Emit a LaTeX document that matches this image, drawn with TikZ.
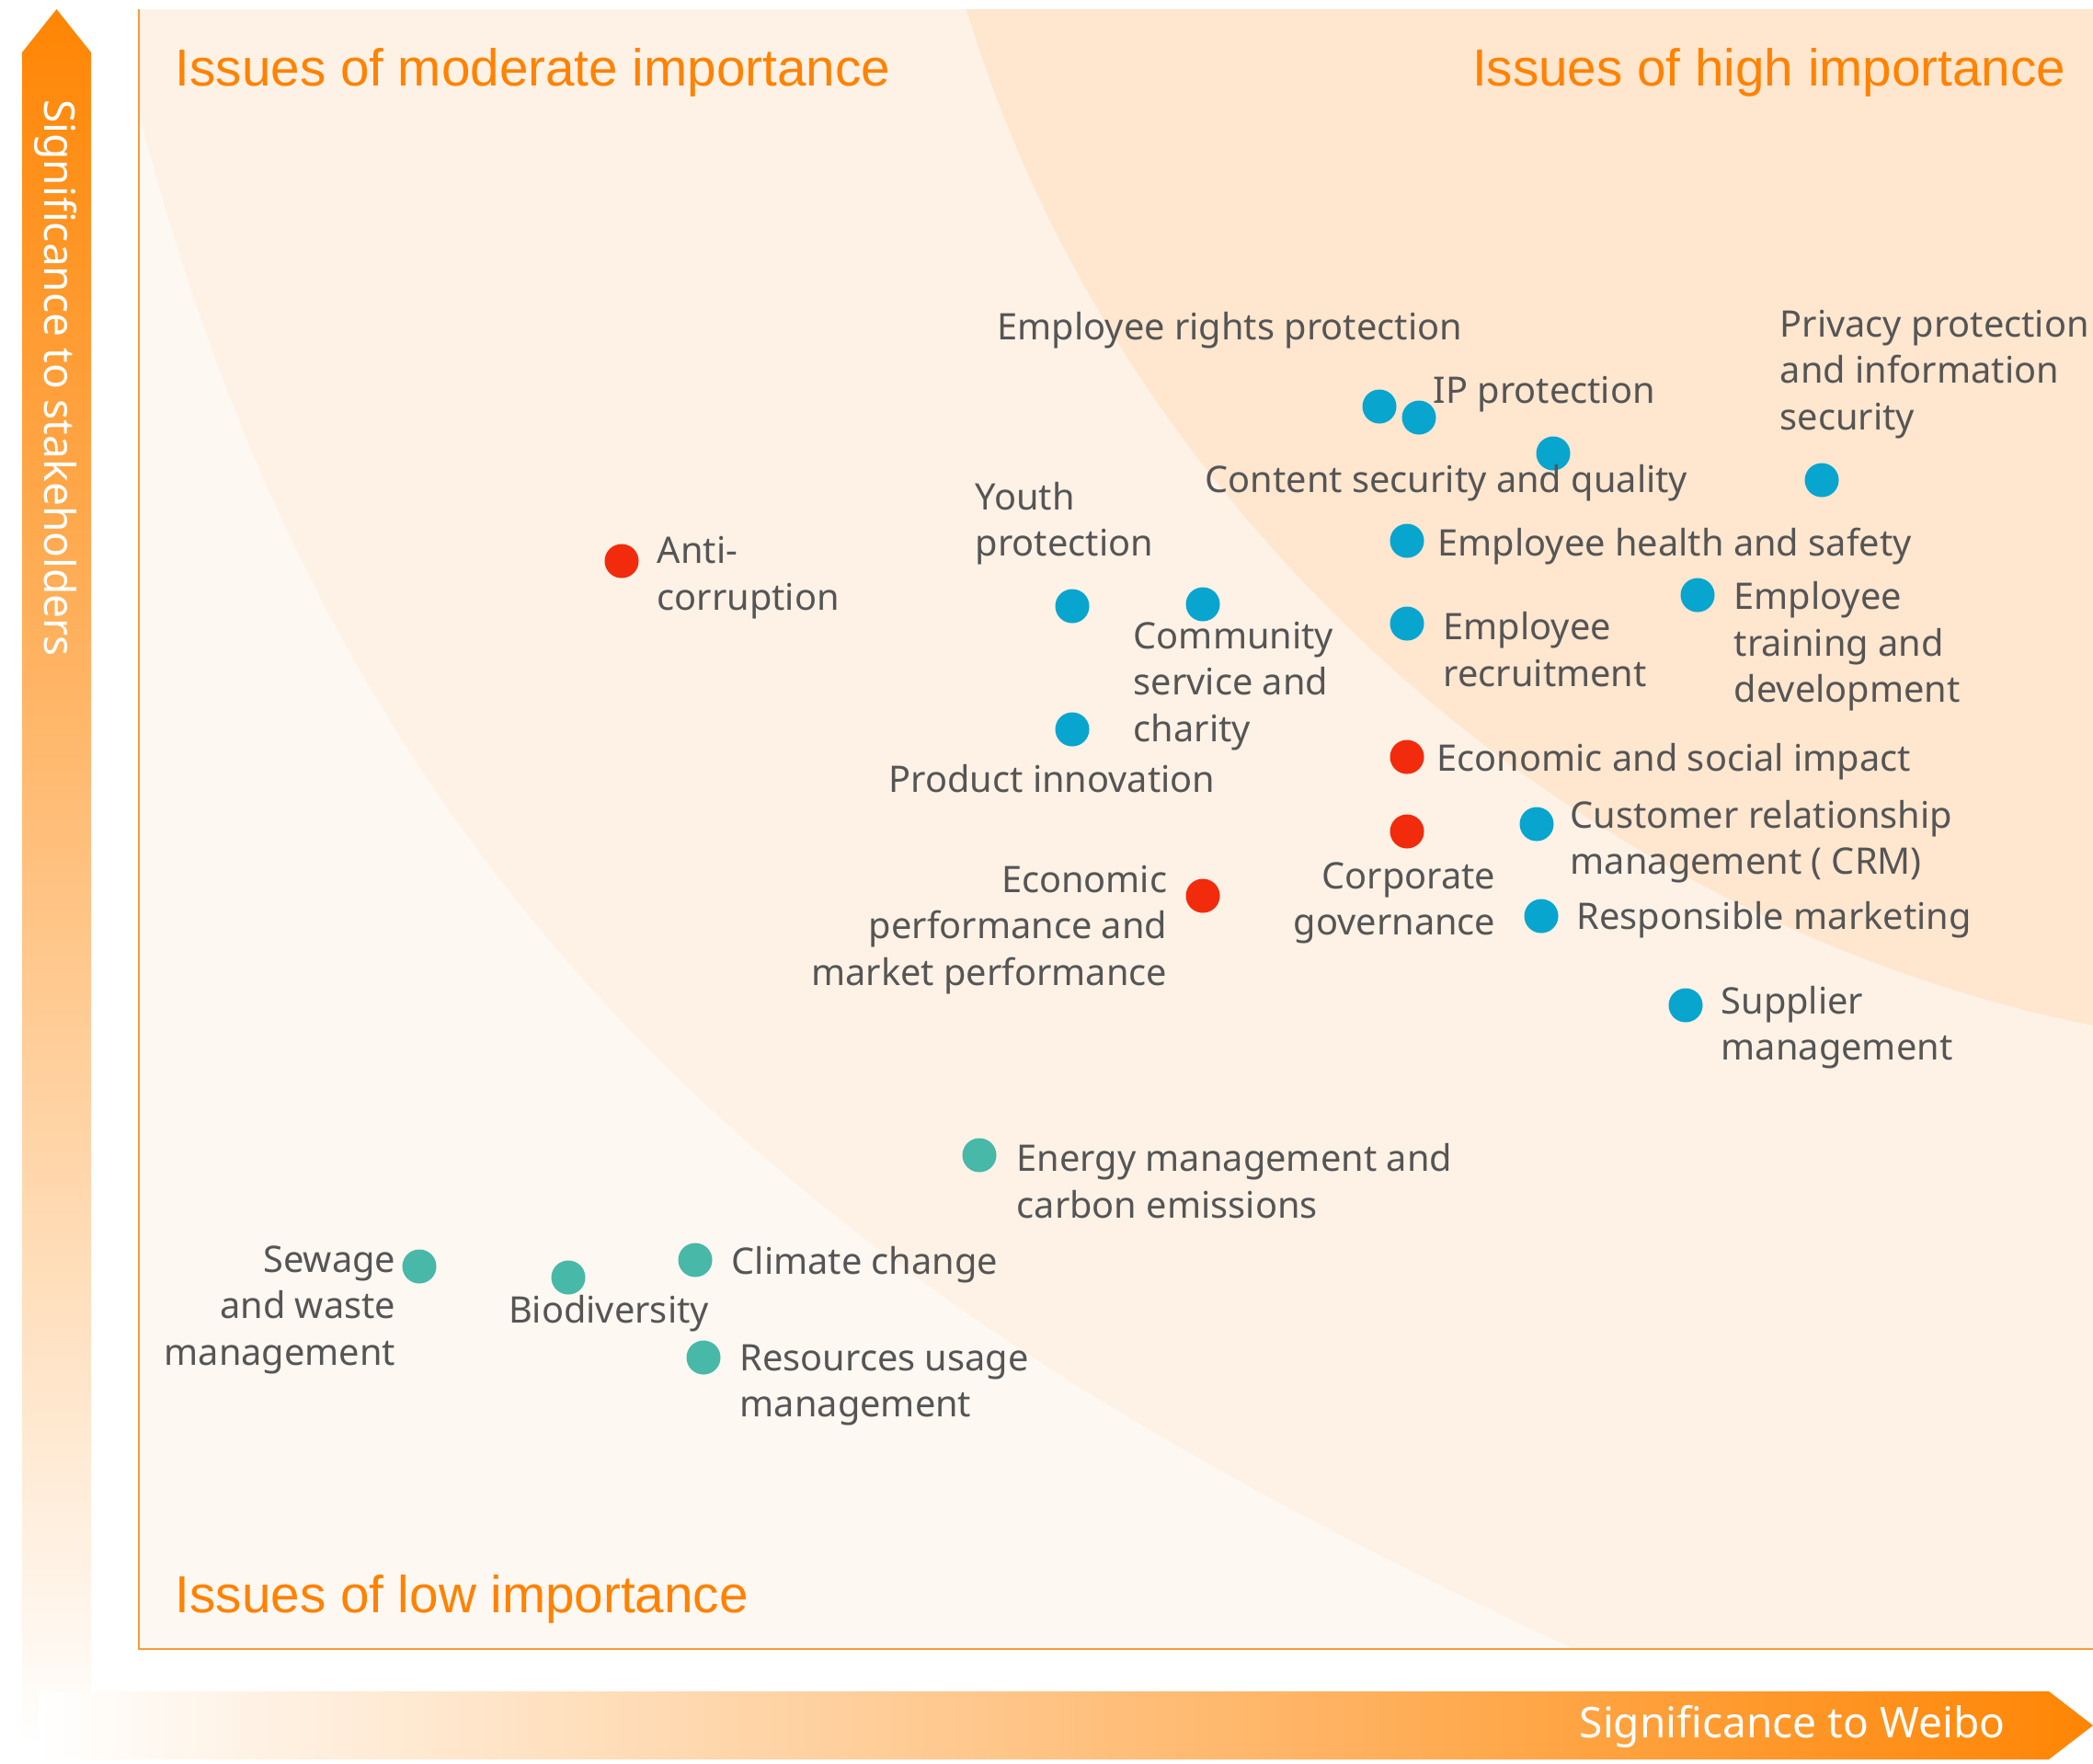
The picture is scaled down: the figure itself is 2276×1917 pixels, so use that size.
\documentclass[tikz,border=0pt]{standalone}
\usepackage{fontspec}
\setmainfont{Noto Sans}
\newfontfamily\titlefont{Liberation Sans}
\definecolor{orgA}{HTML}{FF8503}
\definecolor{ttlc}{HTML}{FF8200}
\definecolor{lowc}{HTML}{FEF8F2}
\definecolor{midc}{HTML}{FEF2E6}
\definecolor{highc}{HTML}{FEE6CF}
\definecolor{bordc}{HTML}{F99A3A}
\definecolor{txtc}{HTML}{555555}
\definecolor{dblue}{HTML}{08A5CF}
\definecolor{dred}{HTML}{F22B0C}
\definecolor{dgreen}{HTML}{48B8A8}
\begin{document}
\begin{tikzpicture}[x=0.01cm,y=-0.01cm,
  dot/.style={circle,inner sep=0pt,minimum size=0.37cm,fill=#1},
  lbl/.style={inner sep=0pt,text=txtc,font=\fontsize{11.3}{14.4}\selectfont},
  ttl/.style={inner sep=0pt,text=ttlc,font=\titlefont\fontsize{16.1}{19}\selectfont},
  axl/.style={inner sep=0pt,text=white,font=\fontsize{13.1}{16}\selectfont},
  bord/.style={draw=bordc,line width=0.6pt}]
\useasboundingbox (0,0) rectangle (2276,1917);
% axis arrows
\shade[top color=orgA,bottom color=white] (24,1900) -- (24,57) -- (61.5,10) -- (99,57) -- (99,1900) -- cycle;
\shade[left color=white,right color=orgA] (42,1839) -- (2228,1839) -- (2276,1876) -- (2228,1913) -- (42,1913) -- cycle;
\node[axl,rotate=-90] (ylab) at (61,411) {Significance to stakeholders};
\node[axl,anchor=east] (xlab) at (2181,1877) {Significance to Weibo};
% chart regions
\fill[midc] (151,10) rectangle (2276,1793);
\fill[lowc] (151,123) .. controls (376,994) and (890,1415) .. (1712,1793) -- (151,1793) -- cycle;
\fill[highc] (1051,10) .. controls (1216,561) and (1712,1002) .. (2276,1115) -- (2276,10) -- cycle;
\draw[bord] (151,10) -- (151,1793) -- (2276,1793);
% titles
\node[ttl,anchor=base west] (tmod) at (190,93) {Issues of moderate importance};
\node[ttl,anchor=base east] (thigh) at (2247,93) {Issues of high importance};
\node[ttl,anchor=base west] (tlow) at (190,1753) {Issues of low importance};
% dots
\node[dot=dblue] (d1) at (1500,442) {};
\node[dot=dblue] (d2) at (1543,454) {};
\node[dot=dblue] (d3) at (1689,493) {};
\node[dot=dblue] (d4) at (1981,522) {};
\node[dot=dblue] (d5) at (1530,588) {};
\node[dot=dblue] (d6) at (1166,659) {};
\node[dot=dblue] (d7) at (1308,657) {};
\node[dot=dblue] (d8) at (1530,678) {};
\node[dot=dblue] (d9) at (1846,647) {};
\node[dot=dred] (d10) at (676,610) {};
\node[dot=dblue] (d11) at (1166,793) {};
\node[dot=dred] (d12) at (1530,823) {};
\node[dot=dblue] (d13) at (1671,896) {};
\node[dot=dred] (d14) at (1530,904) {};
\node[dot=dblue] (d15) at (1676,996) {};
\node[dot=dred] (d16) at (1308,974) {};
\node[dot=dblue] (d17) at (1833,1093) {};
\node[dot=dgreen] (d18) at (1065,1256) {};
\node[dot=dgreen] (d19) at (756,1370) {};
\node[dot=dgreen] (d20) at (456,1377) {};
\node[dot=dgreen] (d21) at (618,1389) {};
\node[dot=dgreen] (d22) at (765,1476) {};
% labels
\node[lbl,anchor=west] (l1) at (1084,359) {Employee rights protection};
\node[lbl,anchor=west] (l2) at (1558,429) {IP protection};
\node[lbl,anchor=west] (l3) at (1310,525) {Content security and quality};
\node[lbl,anchor=west,align=left] (l4) at (1935,407) {Privacy protection\\and information\\security};
\node[lbl,anchor=west] (l5) at (1563,594) {Employee health and safety};
\node[lbl,anchor=west,align=left] (l6) at (1060,569) {Youth\\protection};
\node[lbl,anchor=west,align=left] (l7) at (1232,746) {Community\\service and\\charity};
\node[lbl,anchor=west,align=left] (l8) at (1569,706) {Employee\\recruitment};
\node[lbl,anchor=west,align=left] (l9) at (1885,703) {Employee\\training and\\development};
\node[lbl,anchor=west,align=left] (l10) at (714,628) {Anti-\\corruption};
\node[lbl] (l11) at (1144,847) {Product innovation};
\node[lbl,anchor=west] (l12) at (1562,828) {Economic and social impact};
\node[lbl,anchor=west,align=left] (l13) at (1707,915) {Customer relationship\\management ( CRM)};
\node[lbl,anchor=east,align=right] (l14) at (1627,982) {Corporate\\governance};
\node[lbl,anchor=west] (l15) at (1714,1000) {Responsible marketing};
\node[lbl,anchor=east,align=right] (l16) at (1270,1011) {Economic\\performance and\\market performance};
\node[lbl,anchor=west,align=left] (l17) at (1871,1117) {Supplier\\management};
\node[lbl,anchor=west,align=left] (l18) at (1105,1284) {Energy management and\\carbon emissions};
\node[lbl,anchor=west] (l19) at (795,1375) {Climate change};
\node[lbl,anchor=east,align=right] (l20) at (431,1424) {Sewage\\and waste\\management};
\node[lbl] (l21) at (662,1428) {Biodiversity};
\node[lbl,anchor=west,align=left] (l22) at (804,1506) {Resources usage\\management};
\end{tikzpicture}
\end{document}
